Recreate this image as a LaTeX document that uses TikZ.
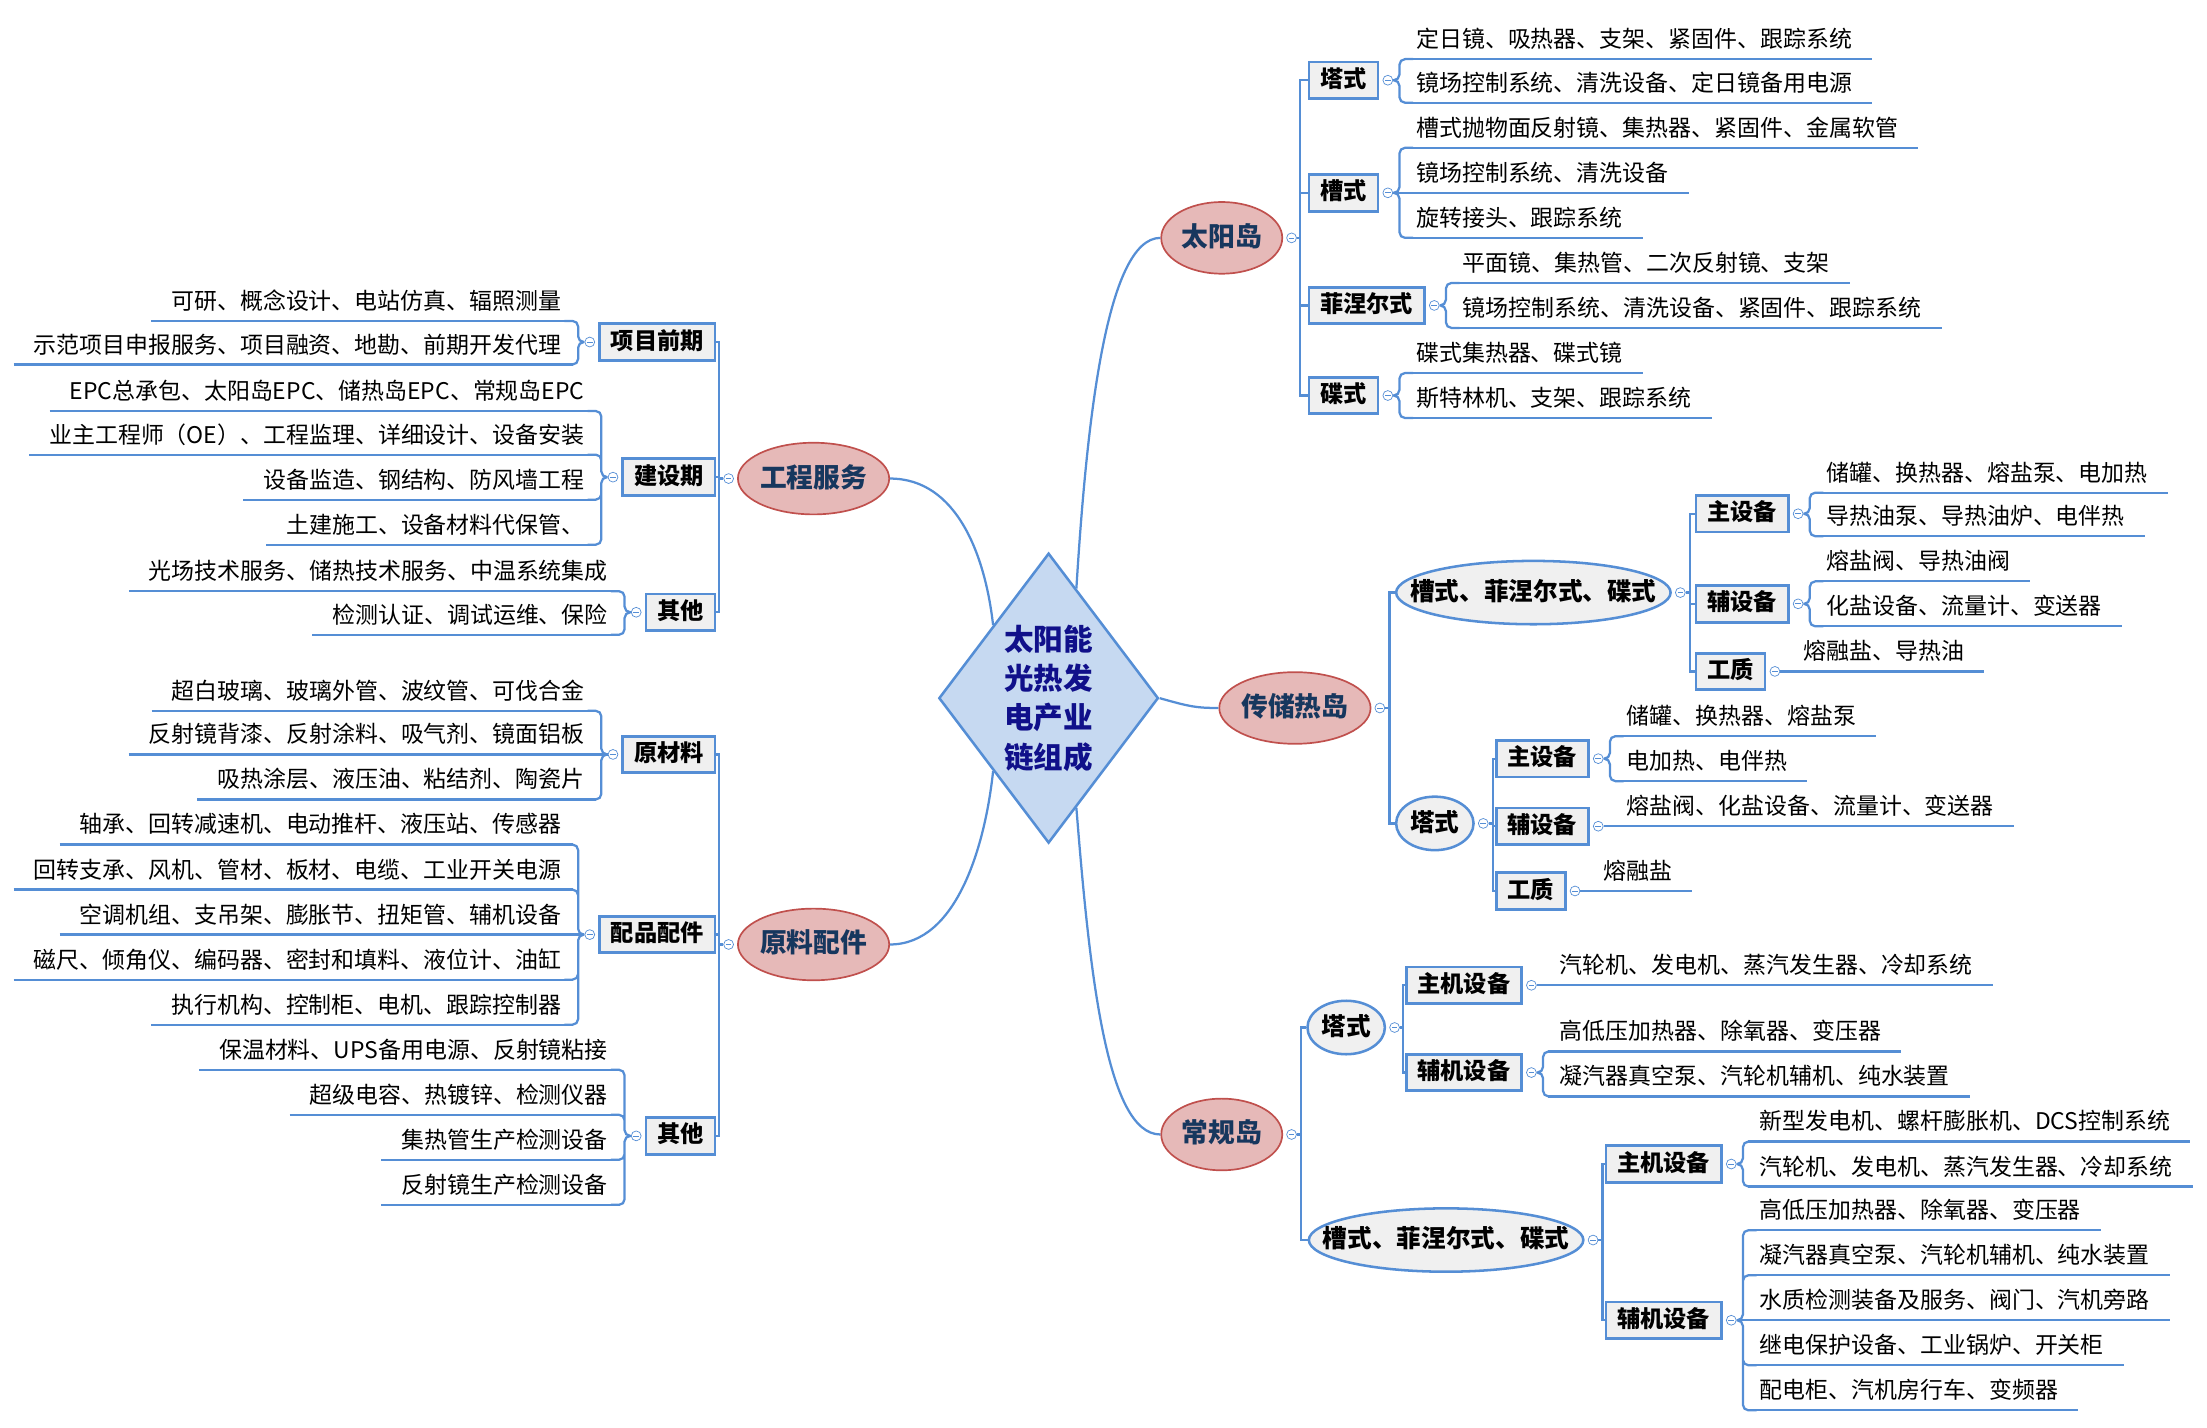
\documentclass[tikz,border=0pt]{standalone}
\usepackage{fontspec}
\setmainfont{Noto Sans CJK SC}
\usetikzlibrary{shapes.geometric,calc}
\definecolor{mapblue}{HTML}{558ED5}
\definecolor{corefill}{HTML}{C6D9F1}
\definecolor{coretext}{HTML}{10108A}
\definecolor{islefill}{HTML}{E6B9B8}
\definecolor{isleedge}{HTML}{C0504D}
\definecolor{isletext}{HTML}{17375E}
\definecolor{boxfill}{HTML}{F0F0F0}
\newcommand\leaffont{\fontsize{16.3pt}{19pt}\selectfont}

\begin{document}
\begin{tikzpicture}[x=1pt,y=-1pt,
  link/.style={draw=mapblue,line width=1.6pt},
  brace/.style={link,rounded corners=4pt},
  fold/.style={circle,draw=mapblue,fill=white,line width=.5pt,minimum size=7pt,inner sep=0pt,
    path picture={\draw[mapblue,line width=.5pt] ([xshift=-2pt]path picture bounding box.center) -- ([xshift=2pt]path picture bounding box.center);}},
  core/.style={diamond,draw=mapblue,line width=1.8pt,fill=corefill,text=coretext,align=center,
    font=\fontsize{21pt}{28pt}\selectfont\bfseries,inner sep=0pt,aspect=.757,minimum width=156pt,minimum height=206pt},
  isle/.style={ellipse,draw=isleedge,line width=1.2pt,fill=islefill,text=isletext,
    font=\fontsize{19pt}{22pt}\selectfont\bfseries,text height=15pt,text depth=3pt,inner xsep=0pt,inner ysep=9pt,minimum width=86pt},
  sort/.style={ellipse,draw=mapblue,line width=1.8pt,fill=boxfill,anchor=west,
    font=\fontsize{17.5pt}{20pt}\selectfont\bfseries,text height=14pt,text depth=3pt,inner sep=0pt,
    minimum width=55pt,minimum height=38pt},
  sortwide/.style={sort,minimum width=195pt,minimum height=45pt},
  kind/.style={draw=mapblue,line width=2pt,fill=boxfill,font=\fontsize{16.5pt}{19pt}\selectfont\bfseries,
    text height=13pt,text depth=3pt,inner xsep=8pt,inner ysep=5pt},
  leafR/.style={anchor=south west,font=\leaffont,text height=13pt,text depth=3pt,inner xsep=8pt,inner ysep=5pt,
    append after command={(\tikzlastnode.south west) edge[link] ([xshift=6pt]\tikzlastnode.south east)}},
  leafL/.style={anchor=south east,font=\leaffont,text height=13pt,text depth=3pt,inner xsep=8pt,inner ysep=5pt,
    append after command={([xshift=-6pt]\tikzlastnode.south west) edge[link] (\tikzlastnode.south east)}}]
  \useasboundingbox (0,0) rectangle (1568,1014);

  % centre and first level
  \node[core] (core) at (745,496) {太阳能\\光热发\\电产业\\链组成};
  \node[isle] (sun) at (868,169) {太阳岛};
  \node[isle] (eng) at (578,340) {工程服务};
  \node[isle] (store) at (920,503) {传储热岛};
  \node[isle] (mat) at (578,671) {原料配件};
  \node[isle] (conv) at (868,806) {常规岛};
  \draw[link] ($(core.north)!.25!(core.east)$) .. controls (772,300) and (786,169) .. (sun.west);
  \draw[link] (eng.east) .. controls (680,340) and (700,395) .. ($(core.north)!.5!(core.west)$);
  \draw[link] (core.east) .. controls (845,502) and (850,503) .. (store.west);
  \draw[link] (mat.east) .. controls (680,671) and (700,600) .. ($(core.south)!.5!(core.west)$);
  \draw[link] ($(core.south)!.25!(core.east)$) .. controls (774,690) and (786,806) .. (conv.west);

  % solar island
  \node[fold] (sun-m) at ([xshift=6pt]sun.east) {};
  \node[kind,anchor=west] (sun-tow) at (929,57) {塔式};
  \node[kind,anchor=west] (sun-tro) at (929,137) {槽式};
  \node[kind,anchor=west] (sun-fre) at (929,217) {菲涅尔式};
  \node[kind,anchor=west] (sun-dis) at (929,281) {碟式};
  \draw[link] (sun-m.east) -- ++(2,0) |- (sun-tow.west) (sun-m.east) -- ++(2,0) |- (sun-tro.west)
    (sun-m.east) -- ++(2,0) |- (sun-fre.west) (sun-m.east) -- ++(2,0) |- (sun-dis.west);
  \node[fold] (sun-tow-m) at ([xshift=6pt]sun-tow.east) {};
  \node[fold] (sun-tro-m) at ([xshift=6pt]sun-tro.east) {};
  \node[fold] (sun-fre-m) at ([xshift=6pt]sun-fre.east) {};
  \node[fold] (sun-dis-m) at ([xshift=6pt]sun-dis.east) {};
  \node[leafR] (sun-tow-1) at (998,42) {定日镜、吸热器、支架、紧固件、跟踪系统};
  \node[leafR] (sun-tow-2) at (998,73) {镜场控制系统、清洗设备、定日镜备用电源};
  \node[leafR] (sun-tro-1) at (998,105) {槽式抛物面反射镜、集热器、紧固件、金属软管};
  \node[leafR] (sun-tro-2) at (998,137) {镜场控制系统、清洗设备};
  \node[leafR] (sun-tro-3) at (998,169) {旋转接头、跟踪系统};
  \node[leafR] (sun-fre-1) at (1031,201) {平面镜、集热管、二次反射镜、支架};
  \node[leafR] (sun-fre-2) at (1031,233) {镜场控制系统、清洗设备、紧固件、跟踪系统};
  \node[leafR] (sun-dis-1) at (998,265) {碟式集热器、碟式镜};
  \node[leafR] (sun-dis-2) at (998,297) {斯特林机、支架、跟踪系统};
  \draw[brace] (sun-tow-m.east) -- ++(4.5,0) |- ([xshift=6pt]sun-tow-1.south west)
    (sun-tow-m.east) -- ++(4.5,0) |- ([xshift=6pt]sun-tow-2.south west);
  \draw[brace] (sun-tro-m.east) -- ++(4.5,0) |- ([xshift=6pt]sun-tro-1.south west)
    (sun-tro-m.east) -- ++(4.5,0) |- ([xshift=6pt]sun-tro-3.south west);
  \draw[link] (sun-tro-m.east) -- (sun-tro-2.south west);
  \draw[brace] (sun-fre-m.east) -- ++(4.5,0) |- ([xshift=6pt]sun-fre-1.south west)
    (sun-fre-m.east) -- ++(4.5,0) |- ([xshift=6pt]sun-fre-2.south west);
  \draw[brace] (sun-dis-m.east) -- ++(4.5,0) |- ([xshift=6pt]sun-dis-1.south west)
    (sun-dis-m.east) -- ++(4.5,0) |- ([xshift=6pt]sun-dis-2.south west);

  % heat transfer and storage island
  \node[fold] (store-m) at ([xshift=6pt]store.east) {};
  \node[sortwide] (store-lin) at (991,421) {\makebox[0pt]{槽式、菲涅尔式、碟式}};
  \node[sort] (store-tow) at (991,585) {塔式};
  \draw[link] (store-m.east) -- ++(3,0) |- (store-lin.west) (store-m.east) -- ++(3,0) |- (store-tow.west);
  \node[fold] (store-lin-m) at ([xshift=6pt]store-lin.east) {};
  \node[kind,anchor=west] (sl-main) at (1204,365) {主设备};
  \node[kind,anchor=west] (sl-aux) at (1204,429) {辅设备};
  \node[kind,anchor=west] (sl-med) at (1204,477) {工质};
  \draw[link] (store-lin-m.east) -- ++(3,0) |- (sl-main.west) (store-lin-m.east) -- ++(3,0) |- (sl-aux.west)
    (store-lin-m.east) -- ++(3,0) |- (sl-med.west);
  \node[fold] (sl-main-m) at ([xshift=6pt]sl-main.east) {};
  \node[fold] (sl-aux-m) at ([xshift=6pt]sl-aux.east) {};
  \node[fold] (sl-med-m) at ([xshift=6pt]sl-med.east) {};
  \node[leafR] (sl-main-1) at (1289.5,350) {储罐、换热器、熔盐泵、电加热};
  \node[leafR] (sl-main-2) at (1289.5,381) {导热油泵、导热油炉、电伴热};
  \node[leafR] (sl-aux-1) at (1289.5,413) {熔盐阀、导热油阀};
  \node[leafR] (sl-aux-2) at (1289.5,445) {化盐设备、流量计、变送器};
  \node[leafR] (sl-med-1) at (1273,477) {熔融盐、导热油};
  \draw[brace] (sl-main-m.east) -- ++(4.5,0) |- ([xshift=6pt]sl-main-1.south west)
    (sl-main-m.east) -- ++(4.5,0) |- ([xshift=6pt]sl-main-2.south west);
  \draw[brace] (sl-aux-m.east) -- ++(4.5,0) |- ([xshift=6pt]sl-aux-1.south west)
    (sl-aux-m.east) -- ++(4.5,0) |- ([xshift=6pt]sl-aux-2.south west);
  \draw[link] (sl-med-m.east) -- (sl-med-1.south west);
  \node[fold] (store-tow-m) at ([xshift=6pt]store-tow.east) {};
  \node[kind,anchor=west] (st-main) at (1062,539) {主设备};
  \node[kind,anchor=west] (st-aux) at (1062,587) {辅设备};
  \node[kind,anchor=west] (st-med) at (1062,633) {工质};
  \draw[link] (store-tow-m.east) -- ++(3,0) |- (st-main.west) (store-tow-m.east) -- ++(3,0) |- (st-aux.west)
    (store-tow-m.east) -- ++(3,0) |- (st-med.west);
  \node[fold] (st-main-m) at ([xshift=6pt]st-main.east) {};
  \node[fold] (st-aux-m) at ([xshift=6pt]st-aux.east) {};
  \node[fold] (st-med-m) at ([xshift=6pt]st-med.east) {};
  \node[leafR] (st-main-1) at (1147.5,523) {储罐、换热器、熔盐泵};
  \node[leafR] (st-main-2) at (1147.5,555) {电加热、电伴热};
  \node[leafR] (st-aux-1) at (1147.5,587) {熔盐阀、化盐设备、流量计、变送器};
  \node[leafR] (st-med-1) at (1131,633) {熔融盐};
  \draw[brace] (st-main-m.east) -- ++(4.5,0) |- ([xshift=6pt]st-main-1.south west)
    (st-main-m.east) -- ++(4.5,0) |- ([xshift=6pt]st-main-2.south west);
  \draw[link] (st-aux-m.east) -- (st-aux-1.south west);
  \draw[link] (st-med-m.east) -- (st-med-1.south west);

  % conventional island
  \node[fold] (conv-m) at ([xshift=6pt]conv.east) {};
  \node[sort] (conv-tow) at (928,730) {塔式};
  \node[sortwide] (conv-lin) at (929,881) {\makebox[0pt]{槽式、菲涅尔式、碟式}};
  \draw[link] (conv-m.east) -- ++(3,0) |- (conv-tow.west) (conv-m.east) -- ++(3,0) |- (conv-lin.west);
  \node[fold] (conv-tow-m) at ([xshift=6pt]conv-tow.east) {};
  \node[kind,anchor=west] (ct-main) at (998,700) {主机设备};
  \node[kind,anchor=west] (ct-aux) at (998,762) {辅机设备};
  \draw[link] (conv-tow-m.east) -- ++(2,0) |- (ct-main.west) (conv-tow-m.east) -- ++(2,0) |- (ct-aux.west);
  \node[fold] (ct-main-m) at ([xshift=6pt]ct-main.east) {};
  \node[fold] (ct-aux-m) at ([xshift=6pt]ct-aux.east) {};
  \node[leafR] (ct-main-1) at (1100,700) {汽轮机、发电机、蒸汽发生器、冷却系统};
  \node[leafR] (ct-aux-1) at (1100,747) {高低压加热器、除氧器、变压器};
  \node[leafR] (ct-aux-2) at (1100,779) {凝汽器真空泵、汽轮机辅机、纯水装置};
  \draw[link] (ct-main-m.east) -- (ct-main-1.south west);
  \draw[brace] (ct-aux-m.east) -- ++(4.5,0) |- ([xshift=6pt]ct-aux-1.south west)
    (ct-aux-m.east) -- ++(4.5,0) |- ([xshift=6pt]ct-aux-2.south west);
  \node[fold] (conv-lin-m) at ([xshift=6pt]conv-lin.east) {};
  \node[kind,anchor=west] (cl-main) at (1140,827) {主机设备};
  \node[kind,anchor=west] (cl-aux) at (1140,938) {辅机设备};
  \draw[link] (conv-lin-m.east) -- ++(3,0) |- (cl-main.west) (conv-lin-m.east) -- ++(3,0) |- (cl-aux.west);
  \node[fold] (cl-main-m) at ([xshift=6pt]cl-main.east) {};
  \node[fold] (cl-aux-m) at ([xshift=6pt]cl-aux.east) {};
  \node[leafR] (cl-main-1) at (1242,811) {新型发电机、螺杆膨胀机、DCS控制系统};
  \node[leafR] (cl-main-2) at (1242,843) {汽轮机、发电机、蒸汽发生器、冷却系统};
  \node[leafR] (cl-aux-1) at (1242,874) {高低压加热器、除氧器、变压器};
  \node[leafR] (cl-aux-2) at (1242,906) {凝汽器真空泵、汽轮机辅机、纯水装置};
  \node[leafR] (cl-aux-3) at (1242,938) {水质检测装备及服务、阀门、汽机旁路};
  \node[leafR] (cl-aux-4) at (1242,970) {继电保护设备、工业锅炉、开关柜};
  \node[leafR] (cl-aux-5) at (1242,1002) {配电柜、汽机房行车、变频器};
  \draw[brace] (cl-main-m.east) -- ++(4.5,0) |- ([xshift=6pt]cl-main-1.south west)
    (cl-main-m.east) -- ++(4.5,0) |- ([xshift=6pt]cl-main-2.south west);
  \draw[brace] (cl-aux-m.east) -- ++(4.5,0) |- ([xshift=6pt]cl-aux-1.south west)
    (cl-aux-m.east) -- ++(4.5,0) |- ([xshift=6pt]cl-aux-2.south west)
    (cl-aux-m.east) -- ++(4.5,0) |- ([xshift=6pt]cl-aux-4.south west)
    (cl-aux-m.east) -- ++(4.5,0) |- ([xshift=6pt]cl-aux-5.south west);
  \draw[link] (cl-aux-m.east) -- (cl-aux-3.south west);

  % engineering services
  \node[fold] (eng-m) at ([xshift=-6pt]eng.west) {};
  \node[kind,anchor=east] (eng-pre) at (509,243) {项目前期};
  \node[kind,anchor=east] (eng-bld) at (509,339) {建设期};
  \node[kind,anchor=east] (eng-oth) at (509,435) {其他};
  \draw[link] (eng-m.west) -- ++(-3,0) |- (eng-pre.east) (eng-m.west) -- ++(-3,0) |- (eng-bld.east)
    (eng-m.west) -- ++(-3,0) |- (eng-oth.east);
  \node[fold] (eng-pre-m) at ([xshift=-6pt]eng-pre.west) {};
  \node[fold] (eng-bld-m) at ([xshift=-6pt]eng-bld.west) {};
  \node[fold] (eng-oth-m) at ([xshift=-6pt]eng-oth.west) {};
  \node[leafL] (eng-pre-1) at (407,228) {可研、概念设计、电站仿真、辐照测量};
  \node[leafL] (eng-pre-2) at (407,259) {示范项目申报服务、项目融资、地勘、前期开发代理};
  \node[leafL] (eng-bld-1) at (423.5,292) {EPC总承包、太阳岛EPC、储热岛EPC、常规岛EPC};
  \node[leafL] (eng-bld-2) at (423.5,323) {业主工程师（OE）、工程监理、详细设计、设备安装};
  \node[leafL] (eng-bld-3) at (423.5,355) {设备监造、钢结构、防风墙工程};
  \node[leafL] (eng-bld-4) at (423.5,387) {土建施工、设备材料代保管、};
  \node[leafL] (eng-oth-1) at (440,420) {光场技术服务、储热技术服务、中温系统集成};
  \node[leafL] (eng-oth-2) at (440,451) {检测认证、调试运维、保险};
  \draw[brace] (eng-pre-m.west) -- ++(-4.5,0) |- ([xshift=-6pt]eng-pre-1.south east)
    (eng-pre-m.west) -- ++(-4.5,0) |- ([xshift=-6pt]eng-pre-2.south east);
  \draw[brace] (eng-bld-m.west) -- ++(-4.5,0) |- ([xshift=-6pt]eng-bld-1.south east)
    (eng-bld-m.west) -- ++(-4.5,0) |- ([xshift=-6pt]eng-bld-2.south east)
    (eng-bld-m.west) -- ++(-4.5,0) |- ([xshift=-6pt]eng-bld-3.south east)
    (eng-bld-m.west) -- ++(-4.5,0) |- ([xshift=-6pt]eng-bld-4.south east);
  \draw[brace] (eng-oth-m.west) -- ++(-4.5,0) |- ([xshift=-6pt]eng-oth-1.south east)
    (eng-oth-m.west) -- ++(-4.5,0) |- ([xshift=-6pt]eng-oth-2.south east);

  % raw materials and parts
  \node[fold] (mat-m) at ([xshift=-6pt]mat.west) {};
  \node[kind,anchor=east] (mat-raw) at (509,536) {原材料};
  \node[kind,anchor=east] (mat-prt) at (509,664) {配品配件};
  \node[kind,anchor=east] (mat-oth) at (509,807) {其他};
  \draw[link] (mat-m.west) -- ++(-3,0) |- (mat-raw.east) (mat-m.west) -- ++(-3,0) |- (mat-prt.east)
    (mat-m.west) -- ++(-3,0) |- (mat-oth.east);
  \node[fold] (mat-raw-m) at ([xshift=-6pt]mat-raw.west) {};
  \node[fold] (mat-prt-m) at ([xshift=-6pt]mat-prt.west) {};
  \node[fold] (mat-oth-m) at ([xshift=-6pt]mat-oth.west) {};
  \node[leafL] (mat-raw-1) at (423.5,505) {超白玻璃、玻璃外管、波纹管、可伐合金};
  \node[leafL] (mat-raw-2) at (423.5,536) {反射镜背漆、反射涂料、吸气剂、镜面铝板};
  \node[leafL] (mat-raw-3) at (423.5,568) {吸热涂层、液压油、粘结剂、陶瓷片};
  \node[leafL] (mat-prt-1) at (407,600) {轴承、回转减速机、电动推杆、液压站、传感器};
  \node[leafL] (mat-prt-2) at (407,632) {回转支承、风机、管材、板材、电缆、工业开关电源};
  \node[leafL] (mat-prt-3) at (407,664) {空调机组、支吊架、膨胀节、扭矩管、辅机设备};
  \node[leafL] (mat-prt-4) at (407,696) {磁尺、倾角仪、编码器、密封和填料、液位计、油缸};
  \node[leafL] (mat-prt-5) at (407,728) {执行机构、控制柜、电机、跟踪控制器};
  \node[leafL] (mat-oth-1) at (440,760) {保温材料、UPS备用电源、反射镜粘接};
  \node[leafL] (mat-oth-2) at (440,792) {超级电容、热镀锌、检测仪器};
  \node[leafL] (mat-oth-3) at (440,824) {集热管生产检测设备};
  \node[leafL] (mat-oth-4) at (440,856) {反射镜生产检测设备};
  \draw[brace] (mat-raw-m.west) -- ++(-4.5,0) |- ([xshift=-6pt]mat-raw-1.south east)
    (mat-raw-m.west) -- ++(-4.5,0) |- ([xshift=-6pt]mat-raw-3.south east);
  \draw[link] (mat-raw-m.west) -- (mat-raw-2.south east);
  \draw[brace] (mat-prt-m.west) -- ++(-4.5,0) |- ([xshift=-6pt]mat-prt-1.south east)
    (mat-prt-m.west) -- ++(-4.5,0) |- ([xshift=-6pt]mat-prt-2.south east)
    (mat-prt-m.west) -- ++(-4.5,0) |- ([xshift=-6pt]mat-prt-4.south east)
    (mat-prt-m.west) -- ++(-4.5,0) |- ([xshift=-6pt]mat-prt-5.south east);
  \draw[link] (mat-prt-m.west) -- (mat-prt-3.south east);
  \draw[brace] (mat-oth-m.west) -- ++(-4.5,0) |- ([xshift=-6pt]mat-oth-1.south east)
    (mat-oth-m.west) -- ++(-4.5,0) |- ([xshift=-6pt]mat-oth-2.south east)
    (mat-oth-m.west) -- ++(-4.5,0) |- ([xshift=-6pt]mat-oth-3.south east)
    (mat-oth-m.west) -- ++(-4.5,0) |- ([xshift=-6pt]mat-oth-4.south east);
\end{tikzpicture}
\end{document}
